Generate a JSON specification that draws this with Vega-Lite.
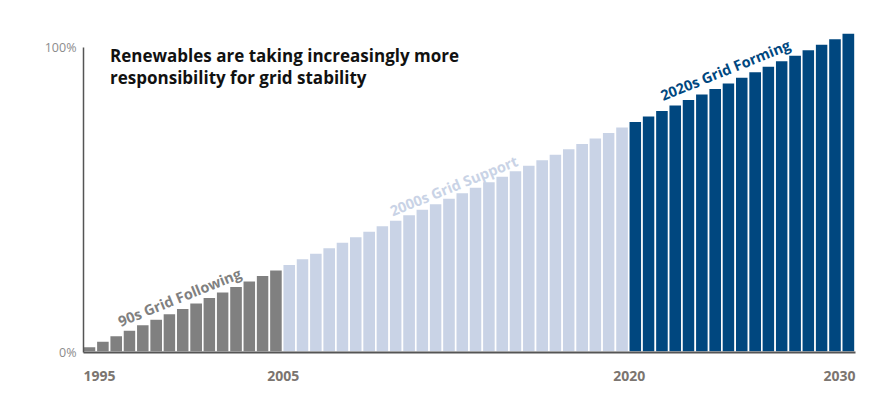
{
  "$schema": "https://vega.github.io/schema/vega-lite/v6.json",
  "width": 772,
  "height": 305,
  "autosize": {"type": "none"},
  "padding": {"left": 83, "top": 47, "right": 39, "bottom": 50},
  "background": "white",
  "config": {"view": {"stroke": null}, "font": "Open Sans"},
  "datasets": {
    "bars": [
      {"x0":0,"x1":1,"v":1.8,"era":"90s"},{"x0":1,"x1":2,"v":3.6,"era":"90s"},{"x0":2,"x1":3,"v":5.4,"era":"90s"},{"x0":3,"x1":4,"v":7.2,"era":"90s"},{"x0":4,"x1":5,"v":9.0,"era":"90s"},
      {"x0":5,"x1":6,"v":10.8,"era":"90s"},{"x0":6,"x1":7,"v":12.6,"era":"90s"},{"x0":7,"x1":8,"v":14.4,"era":"90s"},{"x0":8,"x1":9,"v":16.2,"era":"90s"},{"x0":9,"x1":10,"v":18.0,"era":"90s"},
      {"x0":10,"x1":11,"v":19.8,"era":"90s"},{"x0":11,"x1":12,"v":21.6,"era":"90s"},{"x0":12,"x1":13,"v":23.4,"era":"90s"},{"x0":13,"x1":14,"v":25.2,"era":"90s"},{"x0":14,"x1":15,"v":27.0,"era":"90s"},
      {"x0":15,"x1":16,"v":28.8,"era":"2000s"},{"x0":16,"x1":17,"v":30.7,"era":"2000s"},{"x0":17,"x1":18,"v":32.5,"era":"2000s"},{"x0":18,"x1":19,"v":34.3,"era":"2000s"},{"x0":19,"x1":20,"v":36.1,"era":"2000s"},
      {"x0":20,"x1":21,"v":37.9,"era":"2000s"},{"x0":21,"x1":22,"v":39.7,"era":"2000s"},{"x0":22,"x1":23,"v":41.5,"era":"2000s"},{"x0":23,"x1":24,"v":43.3,"era":"2000s"},{"x0":24,"x1":25,"v":45.1,"era":"2000s"},
      {"x0":25,"x1":26,"v":46.9,"era":"2000s"},{"x0":26,"x1":27,"v":48.7,"era":"2000s"},{"x0":27,"x1":28,"v":50.5,"era":"2000s"},{"x0":28,"x1":29,"v":52.3,"era":"2000s"},{"x0":29,"x1":30,"v":54.1,"era":"2000s"},
      {"x0":30,"x1":31,"v":55.9,"era":"2000s"},{"x0":31,"x1":32,"v":57.7,"era":"2000s"},{"x0":32,"x1":33,"v":59.5,"era":"2000s"},{"x0":33,"x1":34,"v":61.3,"era":"2000s"},{"x0":34,"x1":35,"v":63.1,"era":"2000s"},
      {"x0":35,"x1":36,"v":64.9,"era":"2000s"},{"x0":36,"x1":37,"v":66.7,"era":"2000s"},{"x0":37,"x1":38,"v":68.5,"era":"2000s"},{"x0":38,"x1":39,"v":70.3,"era":"2000s"},{"x0":39,"x1":40,"v":72.1,"era":"2000s"},
      {"x0":40,"x1":41,"v":73.9,"era":"2000s"},
      {"x0":41,"x1":42,"v":75.7,"era":"2020s"},{"x0":42,"x1":43,"v":77.5,"era":"2020s"},{"x0":43,"x1":44,"v":79.3,"era":"2020s"},{"x0":44,"x1":45,"v":81.1,"era":"2020s"},
      {"x0":45,"x1":46,"v":82.9,"era":"2020s"},{"x0":46,"x1":47,"v":84.7,"era":"2020s"},{"x0":47,"x1":48,"v":86.5,"era":"2020s"},{"x0":48,"x1":49,"v":88.3,"era":"2020s"},{"x0":49,"x1":50,"v":90.2,"era":"2020s"},
      {"x0":50,"x1":51,"v":92.0,"era":"2020s"},{"x0":51,"x1":52,"v":93.8,"era":"2020s"},{"x0":52,"x1":53,"v":95.6,"era":"2020s"},{"x0":53,"x1":54,"v":97.4,"era":"2020s"},{"x0":54,"x1":55,"v":99.2,"era":"2020s"},
      {"x0":55,"x1":56,"v":101.0,"era":"2020s"},{"x0":56,"x1":57,"v":102.8,"era":"2020s"},{"x0":57,"x1":58,"v":104.6,"era":"2020s"}
    ],
    "labels": [
      {"label":"90s Grid Following","x":7.3,"y":17.5,"era":"90s"},
      {"label":"2000s Grid Support","x":27.9,"y":54.0,"era":"2000s"},
      {"label":"2020s Grid Forming","x":48.3,"y":92.0,"era":"2020s"}
    ]
  },
  "layer": [
    {
      "data": {"name": "bars"},
      "mark": {"type": "bar", "stroke": "white", "strokeWidth": 1.6, "clip": false},
      "encoding": {
        "x": {"field": "x0", "type": "quantitative",
          "scale": {"domain": [0, 58], "nice": false, "zero": false},
          "axis": {
            "values": [0, 15, 41, 58],
            "labelExpr": "datum.value == 0 ? '1995' : datum.value == 15 ? '2005' : datum.value == 41 ? '2020' : '2030'",
            "labelAlign": {"condition": [{"test": "datum.value == 0", "value": "left"}, {"test": "datum.value == 58", "value": "right"}], "value": "center"},
            "labelFlush": false,
            "labelFontSize": 14,
            "labelFontWeight": "bold",
            "labelColor": "#7b7570",
            "labelPadding": 17,
            "ticks": false,
            "grid": false,
            "domainColor": "#555555",
            "domainWidth": 2,
            "title": null,
            "zindex": 1
          }},
        "x2": {"field": "x1"},
        "y": {"field": "v", "type": "quantitative",
          "scale": {"domain": [0, 100], "nice": false},
          "axis": {
            "values": [0, 100],
            "labelExpr": "datum.value + '%'",
            "labelFontSize": 12.5,
            "labelColor": "#8c8c8c",
            "labelPadding": 7,
            "ticks": false,
            "grid": false,
            "domainColor": "#555555",
            "domainWidth": 1.5,
            "title": null,
            "zindex": 1
          }},
        "y2": {"datum": 0},
        "color": {"field": "era", "type": "nominal",
          "scale": {"domain": ["90s", "2000s", "2020s"], "range": ["#808080", "#c9d3e6", "#00477f"]},
          "legend": null}
      }
    },
    {
      "data": {"name": "labels"},
      "mark": {"type": "text", "angle": -22, "align": "center", "baseline": "middle", "fontSize": 14.5, "fontWeight": "bold"},
      "encoding": {
        "x": {"field": "x", "type": "quantitative"},
        "y": {"field": "y", "type": "quantitative"},
        "text": {"field": "label"},
        "color": {"field": "era", "type": "nominal", "legend": null}
      }
    },
    {
      "data": {"values": [{"line": 1}]},
      "mark": {"type": "text", "align": "left", "baseline": "middle", "fontSize": 17, "fontWeight": "bold", "color": "#111111", "lineHeight": 22,
        "text": ["Renewables are taking increasingly more", "responsibility for grid stability"]},
      "encoding": {
        "x": {"datum": 2.03},
        "y": {"datum": 96.8}
      }
    }
  ]
}
